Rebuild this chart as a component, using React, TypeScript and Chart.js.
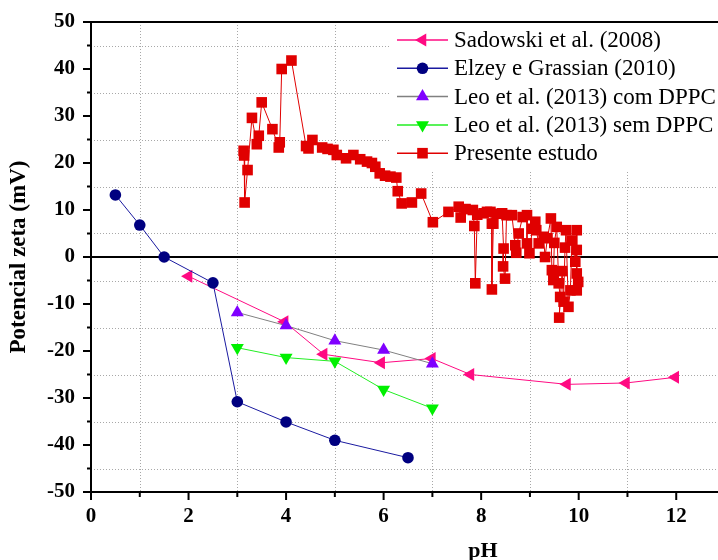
import React, { useEffect, useRef } from 'react';
import { Chart, registerables } from 'chart.js';

Chart.register(...registerables);

const FONT = "'Liberation Serif', 'Times New Roman', serif";

// ---- data ----
const sadowskiPH = [2.0, 3.97, 4.77, 5.95, 6.99, 7.78, 9.76, 10.97, 11.98];
const sadowskiZeta = [-4.1, -13.8, -20.7, -22.5, -21.6, -25.0, -27.1, -26.8, -25.6];

const elzeyPH = [0.5, 1.0, 1.5, 2.5, 3.0, 4.0, 5.0, 6.5];
const elzeyZeta = [13.2, 6.8, 0.0, -5.5, -30.8, -35.1, -39.0, -42.7];

const leoComPH = [3, 4, 5, 6, 7];
const leoComZeta = [-11.8, -14.6, -17.8, -19.8, -22.7];

const leoSemPH = [3, 4, 5, 6, 7];
const leoSemZeta = [-19.3, -21.4, -22.2, -28.2, -32.2];

const presentePH = [
  3.13, 3.14, 3.15, 3.21, 3.30, 3.40, 3.44, 3.50, 3.72, 3.85, 3.87, 3.91, 4.11,
  4.41, 4.46, 4.54, 4.74, 4.85, 4.97, 5.04, 5.23, 5.38, 5.52, 5.66, 5.76, 5.83,
  5.92, 6.03, 6.14, 6.26, 6.29, 6.37, 6.58, 6.77, 7.01, 7.33, 7.54, 7.58, 7.68,
  7.83, 7.86, 7.88, 7.92, 8.05, 8.12, 8.19, 8.22, 8.22, 8.25, 8.32, 8.43, 8.46,
  8.45, 8.49, 8.52, 8.63, 8.70, 8.72, 8.77, 8.85, 8.94, 8.94, 8.99, 9.05, 9.11,
  9.13, 9.18, 9.28, 9.31, 9.36, 9.43, 9.45, 9.48, 9.50, 9.55, 9.59, 9.62, 9.60,
  9.66, 9.69, 9.72, 9.74, 9.79, 9.83, 9.86, 9.93, 9.96, 9.96, 9.96, 9.99, 9.96,
];
const presenteZeta = [
  22.6, 21.6, 11.6, 18.5, 29.6, 24.0, 25.8, 32.9, 27.2, 23.3, 24.4, 40.0, 41.8,
  23.6, 23.1, 24.9, 23.3, 23.0, 22.8, 21.7, 21.0, 21.7, 20.8, 20.3, 20.0, 19.2,
  17.8, 17.3, 17.1, 16.9, 14.0, 11.4, 11.6, 13.5, 7.4, 9.6, 10.7, 8.4, 10.2,
  10.0, 6.6, -5.6, 9.0, 9.3, 9.6, 9.6, 7.1, -6.9, 7.1, 9.2, 9.3, 1.8,
  -2.0, -4.6, 8.9, 8.9, 2.5, 0.9, 5.0, 8.5, 8.9, 2.9, 0.8, 6.0, 7.5,
  5.7, 2.9, 4.3, 0.0, 4.0, 8.2, -2.8, -4.9, 3.0, 6.4, -5.6, -8.5, -12.9,
  -3.0, -9.5, 2.0, 5.7, -10.6, -7.1, 3.5, -1.0, 5.7, 1.5, -3.5, -5.3, -7.1,
];

const xMin = 0;
const xMax = 13;
const yMin = -50;
const yMax = 50;
const xLabelStep = 2;
const yLabelStep = 10;

const xTitle = 'pH';
const yTitle = 'Potencial zeta (mV)';

type Series = {
  label: string;
  xs: number[];
  ys: number[];
  marker: string;
  line: string;
  style: 'circle' | 'rect' | 'triangle';
  rot: number;
  r: number;
};

const series: Series[] = [
  { label: 'Sadowski et al. (2008)', xs: sadowskiPH, ys: sadowskiZeta, marker: '#FF0A82', line: '#FF0A82', style: 'triangle', rot: -90, r: 7.5 },
  { label: 'Elzey e Grassian (2010)', xs: elzeyPH, ys: elzeyZeta, marker: '#000080', line: '#1a1aa0', style: 'circle', rot: 0, r: 5.8 },
  { label: 'Leo et al. (2013) com DPPC', xs: leoComPH, ys: leoComZeta, marker: '#8000FF', line: '#808080', style: 'triangle', rot: 0, r: 7.5 },
  { label: 'Leo et al. (2013) sem DPPC', xs: leoSemPH, ys: leoSemZeta, marker: '#00F000', line: '#22EE22', style: 'triangle', rot: 180, r: 7.5 },
  { label: 'Presente estudo', xs: presentePH, ys: presenteZeta, marker: '#E00000', line: '#E00000', style: 'rect', rot: 0, r: 7.5 },
];

function drawMarker(ctx: CanvasRenderingContext2D, s: Series, x: number, y: number) {
  ctx.save();
  ctx.fillStyle = s.marker;
  ctx.beginPath();
  if (s.style === 'circle') {
    ctx.arc(x, y, s.r, 0, Math.PI * 2);
  } else if (s.style === 'rect') {
    const h = s.r * Math.SQRT1_2;
    ctx.rect(x - h, y - h, 2 * h, 2 * h);
  } else {
    let rad = (s.rot * Math.PI) / 180;
    ctx.moveTo(x + Math.sin(rad) * s.r, y - Math.cos(rad) * s.r);
    rad += (2 * Math.PI) / 3;
    ctx.lineTo(x + Math.sin(rad) * s.r, y - Math.cos(rad) * s.r);
    rad += (2 * Math.PI) / 3;
    ctx.lineTo(x + Math.sin(rad) * s.r, y - Math.cos(rad) * s.r);
    ctx.closePath();
  }
  ctx.fill();
  ctx.restore();
}

const framePlugin = {
  id: 'frame',
  beforeDatasetsDraw(chart: any) {
    const { ctx, chartArea: a, scales } = chart;
    const xs = scales.x;
    const ys = scales.y;
    ctx.save();
    // dotted minor grid
    ctx.strokeStyle = '#a8a8a8';
    ctx.lineWidth = 1;
    ctx.setLineDash([1, 2]);
    for (const t of xs.ticks) {
      if (t.value % xLabelStep === 0) continue;
      const px = Math.round(xs.getPixelForValue(t.value)) + 0.5;
      ctx.beginPath();
      ctx.moveTo(px, a.top);
      ctx.lineTo(px, a.bottom);
      ctx.stroke();
    }
    for (const t of ys.ticks) {
      if (t.value % yLabelStep === 0) continue;
      const py = Math.round(ys.getPixelForValue(t.value)) + 0.5;
      ctx.beginPath();
      ctx.moveTo(a.left, py);
      ctx.lineTo(a.right, py);
      ctx.stroke();
    }
    ctx.setLineDash([]);
    // zero line
    const zy = ys.getPixelForValue(0);
    ctx.strokeStyle = '#000';
    ctx.lineWidth = 2;
    ctx.beginPath();
    ctx.moveTo(a.left, zy);
    ctx.lineTo(a.right, zy);
    ctx.stroke();

    // legend
    const lx0 = 390;
    ctx.fillStyle = '#fff';
    ctx.fillRect(lx0, a.top + 2, chart.width - lx0, 148);
    const rowY0 = 40;
    const rowGap = 28.3;
    ctx.font = `23px ${FONT}`;
    ctx.textAlign = 'left';
    ctx.textBaseline = 'alphabetic';
    series.forEach((s, i) => {
      const ry = rowY0 + i * rowGap;
      ctx.strokeStyle = s.line;
      ctx.lineWidth = 1.5;
      ctx.beginPath();
      ctx.moveTo(397, ry);
      ctx.lineTo(448, ry);
      ctx.stroke();
      drawMarker(ctx, s, 422.5, ry);
      ctx.fillStyle = '#000';
      ctx.fillText(s.label, 454, ry + 7);
    });
    ctx.restore();
  },
  afterDraw(chart: any) {
    const { ctx, chartArea: a, scales } = chart;
    const xs = scales.x;
    const ys = scales.y;
    ctx.save();
    ctx.strokeStyle = '#000';
    ctx.lineWidth = 2;
    ctx.beginPath();
    ctx.moveTo(a.left, a.top);
    ctx.lineTo(a.right, a.top);
    ctx.moveTo(a.left, a.top - 1);
    ctx.lineTo(a.left, a.bottom + 1);
    ctx.moveTo(a.left - 1, a.bottom);
    ctx.lineTo(a.right, a.bottom);
    ctx.stroke();
    // tick marks
    for (const t of xs.ticks) {
      const px = xs.getPixelForValue(t.value);
      const len = t.value % xLabelStep === 0 ? 8 : 5;
      ctx.beginPath();
      ctx.moveTo(px, a.bottom);
      ctx.lineTo(px, a.bottom + len);
      ctx.stroke();
    }
    for (const t of ys.ticks) {
      const py = ys.getPixelForValue(t.value);
      const len = t.value % yLabelStep === 0 ? 8 : 4;
      ctx.beginPath();
      ctx.moveTo(a.left, py);
      ctx.lineTo(a.left - len, py);
      ctx.stroke();
    }
    // titles
    ctx.fillStyle = '#000';
    ctx.font = `bold 22px ${FONT}`;
    ctx.textAlign = 'center';
    ctx.textBaseline = 'alphabetic';
    ctx.fillText(xTitle, 483, 557);
    ctx.font = `bold 23px ${FONT}`;
    ctx.translate(25, (a.top + a.bottom) / 2);
    ctx.rotate(-Math.PI / 2);
    ctx.fillText(yTitle, 0, 0);
    ctx.restore();
  },
};

export default function App() {
  const ref = useRef<HTMLCanvasElement | null>(null);
  useEffect(() => {
    if (!ref.current) return;
    const datasets = series.map((s, i) => ({
      label: s.label,
      data: s.xs.map((x, k) => ({ x, y: s.ys[k] })),
      showLine: true,
      borderColor: s.line,
      borderWidth: 1,
      backgroundColor: s.marker,
      pointBackgroundColor: s.marker,
      pointBorderColor: s.marker,
      pointBorderWidth: 0,
      pointStyle: s.style,
      pointRotation: s.rot,
      pointRadius: s.r,
      pointHoverRadius: s.r,
      tension: 0,
      order: series.length - i,
    }));
    const chart = new Chart(ref.current, {
      type: 'scatter',
      data: { datasets },
      options: {
        animation: false,
        responsive: false,
        devicePixelRatio: 1,
        layout: { padding: { top: 22, right: 15, left: 0, bottom: 0 } },
        plugins: { legend: { display: false }, tooltip: { enabled: false } },
        scales: {
          x: {
            type: 'linear',
            min: xMin,
            max: xMax,
            grid: { display: false, drawTicks: false },
            border: { display: false },
            ticks: {
              stepSize: 1,
              autoSkip: false,
              maxRotation: 0,
              padding: 12,
              color: '#000',
              font: { family: FONT, size: 21, weight: 'bold' },
              callback: (v: any) => (Number(v) % xLabelStep === 0 ? String(v) : ''),
            },
            afterFit: (s: any) => {
              s.height = 68;
              s.paddingLeft = 0;
              s.paddingRight = 0;
              s.paddingTop = 0;
              s.paddingBottom = 0;
            },
          },
          y: {
            type: 'linear',
            min: yMin,
            max: yMax,
            grid: { display: false, drawTicks: false },
            border: { display: false },
            ticks: {
              stepSize: 5,
              autoSkip: false,
              padding: 16,
              color: '#000',
              font: { family: FONT, size: 21, weight: 'bold' },
              callback: (v: any) => (Number(v) % yLabelStep === 0 ? String(v) : ''),
            },
            afterFit: (s: any) => {
              s.width = 91;
              s.paddingLeft = 0;
              s.paddingRight = 0;
              s.paddingTop = 0;
              s.paddingBottom = 0;
            },
          },
        },
      },
      plugins: [framePlugin],
    } as any);
    return () => chart.destroy();
  }, []);

  return (
    <div style={{ position: 'absolute', left: 0, top: 0, width: 718, height: 560, overflow: 'hidden', background: '#fff' }}>
      <canvas ref={ref} width={740} height={560} style={{ display: 'block', width: 740, height: 560 }} />
    </div>
  );
}
